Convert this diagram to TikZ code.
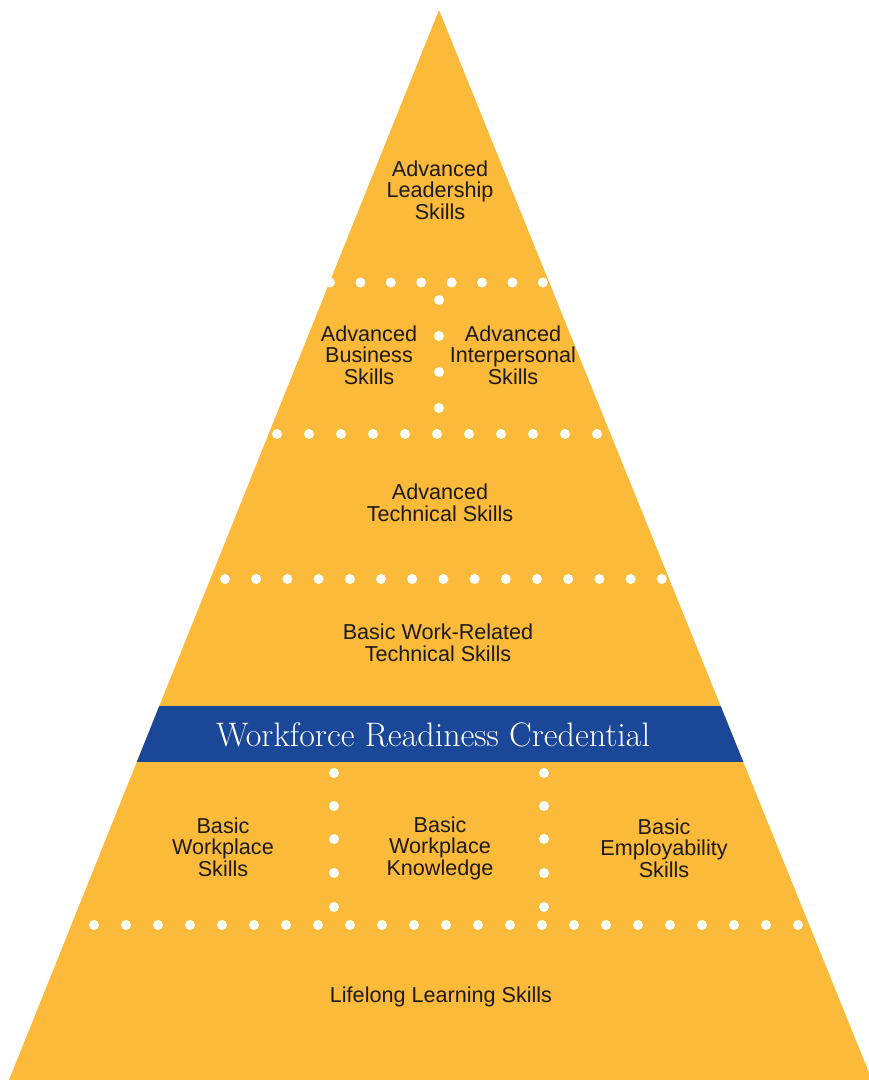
\documentclass[tikz,border=0pt]{standalone}
\usepackage{fontspec}
\setsansfont{Liberation Sans}
\definecolor{pyr}{HTML}{FBBA3A}
\definecolor{bandblue}{HTML}{1A4798}
\definecolor{txt}{HTML}{1E1A1A}
\begin{document}
\begin{tikzpicture}[x=1pt,y=-1pt,
  lbl/.style={font=\sffamily\fontsize{21.6}{21.5}\selectfont, text=txt, align=center, inner sep=0pt},
  bandtext/.style={font=\rmfamily\fontsize{34}{34}\selectfont, text=white, inner sep=0pt},
  wdot/.style={fill=white}]
\useasboundingbox (0,0) rectangle (869,1080);
\coordinate (apex) at (439,10);
\coordinate (bl) at (9,1080);
\coordinate (br) at (872,1080);
\fill[pyr] (apex) -- (bl) -- (br) -- cycle;
\begin{scope}
  \clip (apex) -- (bl) -- (br) -- cycle;
  \fill[bandblue] (0,706) rectangle (869,762);
\end{scope}
% dotted separators
\foreach \i in {0,...,7} \fill[wdot] (330+30.4*\i,282.5) circle (5);
\foreach \yy in {300,336,372,408} \fill[wdot] (439,\yy) circle (5);
\foreach \i in {0,...,10} \fill[wdot] (277+32*\i,434) circle (5);
\foreach \i in {0,...,14} \fill[wdot] (225+31.2*\i,579) circle (5);
\foreach \yy in {773,806,839,873,907} {
  \fill[wdot] (334,\yy) circle (5);
  \fill[wdot] (544,\yy) circle (5);
}
\foreach \i in {0,...,22} \fill[wdot] (94+32*\i,925) circle (5);
% labels
\node[lbl] (lead) at (440,190) {Advanced\\Leadership\\Skills};
\node[lbl] (bus) at (369,355) {Advanced\\Business\\Skills};
\node[lbl] (inter) at (513,355) {Advanced\\Interpersonal\\Skills};
\node[lbl] (tech) at (440,503) {Advanced\\Technical Skills};
\node[lbl] (work) at (438,643) {Basic Work-Related\\Technical Skills};
\node[bandtext] (cred) at (433,735) {Workforce Readiness Credential};
\node[lbl] (wps) at (223,847) {Basic\\Workplace\\Skills};
\node[lbl] (wpk) at (440,848) {Basic\\Workplace\\Knowledge};
\node[lbl] (emp) at (664,848) {Basic\\Employability\\Skills};
\node[lbl] (life) at (441,997) {Lifelong Learning Skills};
\end{tikzpicture}
\end{document}
